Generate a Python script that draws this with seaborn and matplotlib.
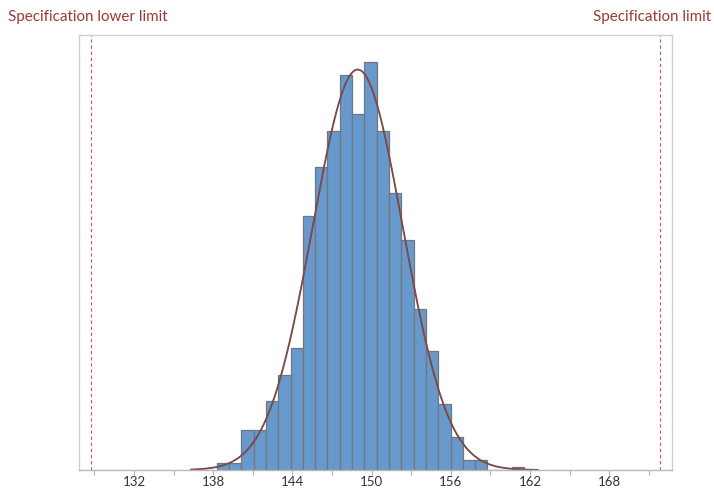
import numpy as np
import pandas as pd
import matplotlib
matplotlib.use("Agg")
import matplotlib.pyplot as plt
import seaborn as sns
from matplotlib.ticker import FixedLocator

# ---- data ----
bin_start = 138.27
bin_width = 0.932
counts = [2, 2, 12, 12, 21, 29, 37, 77, 92, 103, 120, 108, 124,
          103, 84, 70, 49, 36, 20, 10, 3, 3, 0, 0, 1]
lower_spec = 128.75
upper_spec = 171.85
lower_label = "Specification lower limit"
upper_label = "Specification limit"
major_ticks = [132, 138, 144, 150, 156, 162, 168]
minor_ticks = [129, 135, 141, 147, 153, 159, 165, 171]

n_bins = len(counts)
edges = bin_start + bin_width * np.arange(n_bins + 1)
centers = (edges[:-1] + edges[1:]) / 2
df = pd.DataFrame({"value": centers, "count": counts})

# fitted normal from the histogram
cnt = np.array(counts, dtype=float)
total = cnt.sum()
mu = (cnt * centers).sum() / total
sd = np.sqrt((cnt * (centers - mu) ** 2).sum() / total)
xs = np.linspace(136.3, 162.6, 400)
ys = total * bin_width * np.exp(-0.5 * ((xs - mu) / sd) ** 2) / (sd * np.sqrt(2 * np.pi))
curve = pd.DataFrame({"x": xs, "y": ys})

sns.set_theme(style="white")
plt.rcParams["font.family"] = ["Lato", "DejaVu Sans"]

fig = plt.figure(figsize=(7.14, 4.88), dpi=100)
ax = fig.add_axes([79 / 714, 18 / 488, (672 - 79) / 714, (470 - 35) / 488])

sns.histplot(data=df, x="value", weights="count", binwidth=bin_width,
             binrange=(float(edges[0]), float(edges[-1])), ax=ax,
             color="#6899cc", edgecolor="#707780", linewidth=0.9, alpha=1.0)

sns.lineplot(data=curve, x="x", y="y", ax=ax, color="#5e5050", linewidth=1.3)
ax.plot(curve["x"], curve["y"], color="#c0392b", linewidth=0.8,
        linestyle=(0, (4, 4)))

for xv in (lower_spec, upper_spec):
    ax.axvline(xv, color="#d9534f", linewidth=0.8, linestyle=(0, (3, 2.5)))

ax.set_xlim(127.83, 172.76)
ax.set_ylim(0, 124 * 435 / 408.3)
ax.set_yticks([])
ax.set_xlabel("")
ax.set_ylabel("")

ax.xaxis.set_major_locator(FixedLocator(major_ticks))
ax.xaxis.set_minor_locator(FixedLocator(minor_ticks))
ax.set_xticklabels([str(t) for t in major_ticks])
ax.tick_params(axis="x", which="both", direction="out", length=3.5, width=0.8,
               color="#b0b0b0", bottom=True, labelsize=9.5, labelcolor="#333333",
               pad=1)

for sp in ax.spines.values():
    sp.set_color("#d0d0d0")
    sp.set_linewidth(1.0)
ax.spines["bottom"].set_color("#b8b8b8")

fig.text(8 / 714, 1 - 17 / 488, lower_label, ha="left", va="center",
         fontsize=10.9, color="#9b3a35")
fig.text(711 / 714, 1 - 17 / 488, upper_label, ha="right", va="center",
         fontsize=10.9, color="#9b3a35")

fig.savefig("out.png", dpi=100)
